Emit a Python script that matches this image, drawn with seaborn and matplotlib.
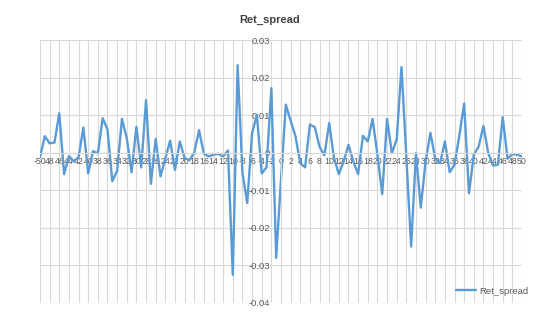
import numpy as np
import pandas as pd
import matplotlib
matplotlib.use("Agg")
import matplotlib.pyplot as plt
import seaborn as sns

# ---- data ----
lags = list(range(-50, 51))
ret_spread = [
    -0.0012, 0.0044, 0.0025, 0.0027, 0.0105, -0.0057, -0.0009, -0.0023, -0.0012, 0.0067,   # -50..-41
    -0.0055, 0.0004, -0.0002, 0.0092, 0.0062, -0.0076, -0.0048, 0.0090, 0.0039, -0.0052,   # -40..-31
    0.0069, -0.0039, 0.0140, -0.0083, 0.0037, -0.0063, -0.0015, 0.0032, -0.0046, 0.0030,   # -30..-21
    -0.0014, -0.0020, 0.0000, 0.0060, -0.0003, -0.0010, -0.0005, -0.0003, -0.0010, 0.0006, # -20..-11
    -0.0325, 0.0233, -0.0054, -0.0134, 0.0052, 0.0101, -0.0055, -0.0039, 0.0172, -0.0280,  # -10..-1
    -0.0070,                                                                                # 0
    0.0128, 0.0085, 0.0044, -0.0028, -0.0039, 0.0075, 0.0068, 0.0016, -0.0007, 0.0079,     # 1..10
    -0.0014, -0.0057, -0.0023, 0.0021, -0.0023, -0.0057, 0.0045, 0.0030, 0.0090, -0.0005,  # 11..20
    -0.0110, 0.0090, -0.0001, 0.0035, 0.0228, -0.0010, -0.0250, -0.0001, -0.0146, -0.0023, # 21..30
    0.0053, -0.0016, -0.0028, 0.0030, -0.0052, -0.0032, 0.0046, 0.0131, -0.0108, -0.0005,  # 31..40
    0.0016, 0.0071, -0.0001, -0.0034, -0.0032, 0.0095, -0.0016, -0.0004, -0.0005, -0.0010, # 41..50
]
assert len(ret_spread) == len(lags)

x_ticks = list(range(-50, 51, 2))
# labels as they appear (overlapping labels hide the minus of two-digit negatives)
x_ticklabels = ["-50"] + [str(abs(v)) for v in range(-48, -9, 2)] + [str(v) for v in range(-8, 51, 2)]
y_ticks = [-0.04, -0.03, -0.02, -0.01, 0.0, 0.01, 0.02, 0.03]
y_ticklabels = ["-0.04", "-0.03", "-0.02", "-0.01", "0", "0.01", "0.02", "0.03"]

df = pd.DataFrame({"lag": lags, "Ret_spread": ret_spread})

sns.set_style("white")
plt.rcParams["font.family"] = ["Liberation Sans", "DejaVu Sans"]

fig = plt.figure(figsize=(5.51, 3.21), dpi=100)
ax = fig.add_axes([40 / 551, 1 - 303 / 321, (522 - 40) / 551, (303 - 40) / 321])

sns.lineplot(data=df, x="lag", y="Ret_spread", ax=ax, color="#5B9BD5",
             linewidth=1.7, label="Ret_spread")

ax.set_xlim(-50, 50)
ax.set_ylim(-0.04, 0.03)

grid_c = "#D9D9D9"
ax.set_xticks(x_ticks)
ax.set_xticklabels(x_ticklabels)
ax.set_yticks(y_ticks)
ax.set_yticklabels(y_ticklabels)
ax.grid(True, color=grid_c, linewidth=0.8)
ax.set_axisbelow(True)

for s in ["top", "right"]:
    ax.spines[s].set_visible(False)
ax.spines["left"].set_position(("data", 0))
ax.spines["bottom"].set_position(("data", 0))
ax.spines["left"].set_color(grid_c)
ax.spines["bottom"].set_color(grid_c)
ax.spines["left"].set_linewidth(0.8)
ax.spines["bottom"].set_linewidth(0.8)

ax.tick_params(axis="x", length=0, pad=3, labelsize=6.3, colors="#595959")
ax.tick_params(axis="y", length=0, pad=8, labelsize=6.8, colors="#595959")

ax.set_xlabel("")
ax.set_ylabel("")

leg = ax.legend(loc="center", bbox_to_anchor=(492 / 551, 1 - 291 / 321),
                bbox_transform=fig.transFigure, frameon=False, fontsize=6.8,
                handlelength=2.2, handletextpad=0.3)
for t in leg.get_texts():
    t.set_color("#595959")

fig.text(270 / 551, 1 - 20 / 321, "Ret_spread", ha="center", va="center",
         fontsize=8, fontweight="bold", color="#404040")

fig.savefig("out.png", dpi=100, facecolor="white")
